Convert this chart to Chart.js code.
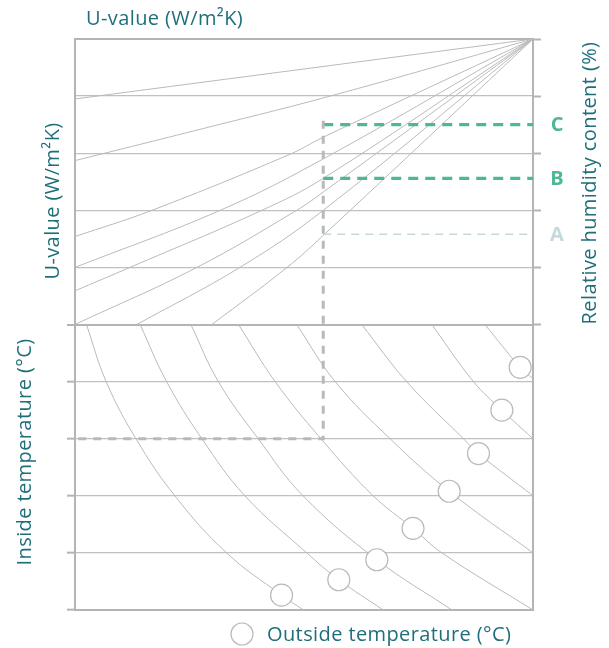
<!DOCTYPE html>
<html>
<head>
<meta charset="utf-8">
<script src="https://cdn.jsdelivr.net/npm/chart.js@4"></script>
<style>
  html, body { margin: 0; padding: 0; background: #ffffff; }
  #wrap { width: 609px; height: 648px; }
</style>
</head>
<body>
<div id="wrap"><canvas id="c" width="609" height="648"></canvas></div>
<script>
// ---------- data (normalised nomogram units: x 0-100, y 0-10 grid bands) ----------
// Upper panel: U-value lines, all converging at the top-right corner
const uLine1 = [[0, 8.95], [100, 10]];
const uLine2 = [[0, 7.87], [27.9, 8.43], [55.7, 9.0], [100, 10]];
const uLine3 = [[0, 6.54], [16.8, 7.0], [46.9, 7.98], [54.2, 8.28], [100, 10]];
const uLine4 = [[0, 6.0], [31.7, 7.0], [54.2, 7.9], [100, 10]];
const uLine5 = [[0, 5.59], [12.0, 6.0], [40.8, 7.0], [54.2, 7.56], [100, 10]];
const uLine6 = [[0, 5.0], [26.6, 6.0], [48.4, 7.0], [54.2, 7.32], [100, 10]];
const uLine7 = [[13.5, 5.0], [36.0, 6.0], [54.2, 7.0], [100, 10]];
const uLine8 = [[29.9, 5.0], [46.3, 6.0], [54.2, 6.56], [100, 10]];

// Lower panel: inside-temperature curves
const tCurve1 = [[2.5, 5], [6.8, 4], [13.3, 3], [21.8, 2], [33.1, 1], [45.1, 0.26], [49.9, 0]];
const tCurve2 = [[14.2, 5], [20.0, 4], [27.7, 3], [37.1, 2], [50.6, 1], [57.6, 0.53], [67.3, 0]];
const tCurve3 = [[25.3, 5], [31.3, 4], [40.0, 3], [49.8, 2], [65.9, 0.88], [82.3, 0]];
const tCurve4 = [[35.7, 5], [43.7, 4], [53.7, 3], [65.1, 2], [73.8, 1.43], [80.1, 1], [100, 0]];
const tCurve5 = [[48.4, 5], [56.8, 4], [68.8, 3], [81.7, 2.08], [100, 1]];
const tCurve6 = [[62.6, 5], [72.4, 4], [84.8, 3], [88.1, 2.74], [100, 2]];
const tCurve7 = [[77.9, 5], [87.0, 4], [93.2, 3.5], [100, 3]];
const tCurve8 = [[89.5, 5], [97.2, 4.25], [100, 4.05]];

// Outside temperature markers (one per curve)
const outsideTemps = [[45.1, 0.26], [57.6, 0.53], [65.9, 0.88], [73.8, 1.43], [81.7, 2.08], [88.1, 2.74], [93.2, 3.5], [97.2, 4.25]];

// Reading guides
const guideX = 54.2;
const guideTop = 8.57;
const insideTempLevel = 3;
const humidityLevels = [6.58, 7.56, 8.5];
const humidityLabels = ['A', 'B', 'C'];

// Texts
const titleTop = 'U-value (W/m²K)';
const titleLeftUpper = 'U-value (W/m²K)';
const titleLeftLower = 'Inside temperature (°C)';
const titleRight = 'Relative humidity content (%)';
const legendLabel = 'Outside temperature (°C)';

// ---------- styles ----------
const TEAL = '#1f6f7b';
const GREEN = '#4cb894';
const PALE = '#c3d9dd';
const LINE = '#bababa';
const FRAME = '#b4b4b4';
const GRID = '#c0c0c0';
const FONT = '"Open Sans", sans-serif';

const toPts = arr => arr.map(p => ({ x: p[0], y: p[1] }));

const curveDs = arr => ({
  type: 'line', data: toPts(arr), borderColor: LINE, borderWidth: 1,
  pointRadius: 0, tension: 0.4, fill: false, order: 3
});

const datasets = [];
[uLine1, uLine2, uLine3, uLine4, uLine5, uLine6, uLine7, uLine8,
 tCurve1, tCurve2, tCurve3, tCurve4, tCurve5, tCurve6, tCurve7, tCurve8].forEach(a => datasets.push(curveDs(a)));

// grey reading guide: down from the top, then left at inside temperature
datasets.push({
  type: 'line', label: 'guide',
  data: toPts([[guideX, guideTop], [guideX, insideTempLevel], [0, insideTempLevel]]),
  borderColor: '#b9b9b9', borderWidth: 3, borderDash: [8, 7], pointRadius: 0, tension: 0, order: 2
});
// humidity levels A (pale thin), B, C (green)
humidityLevels.forEach((lv, i) => {
  const pale = i === 0;
  datasets.push({
    type: 'line', label: humidityLabels[i],
    data: toPts([[guideX, lv], [100, lv]]),
    borderColor: pale ? PALE : GREEN, borderWidth: pale ? 1.5 : 3.2,
    borderDash: pale ? [8, 6] : [10, 7], pointRadius: 0, tension: 0, order: 2
  });
});
// outside temperature circles
datasets.push({
  type: 'scatter', label: legendLabel, data: toPts(outsideTemps),
  pointRadius: 11, pointBackgroundColor: '#ffffff', pointBorderColor: '#bababa',
  pointBorderWidth: 1.2, showLine: false, order: 0
});

const textPlugin = {
  id: 'nomogramText',
  afterDraw(chart) {
    const { ctx, chartArea: ca, scales } = chart;
    const y = scales.y;
    ctx.save();
    ctx.fillStyle = TEAL;
    ctx.font = '20px ' + FONT;
    ctx.letterSpacing = '0.4px';
    ctx.textBaseline = 'middle';
    // top title
    ctx.textAlign = 'left';
    ctx.fillText(titleTop, ca.left + 11, ca.top - 20);
    // rotated titles
    const rot = (txt, x, yy) => {
      ctx.save(); ctx.translate(x, yy); ctx.rotate(-Math.PI / 2);
      ctx.textAlign = 'center'; ctx.fillText(txt, 0, 0); ctx.restore();
    };
    rot(titleLeftUpper, 53, 201);
    rot(titleLeftLower, 25, 452);
    rot(titleRight, 590, 183);
    // A, B, C labels
    ctx.letterSpacing = '0px';
    ctx.font = 'bold 20px ' + FONT;
    ctx.textAlign = 'center';
    humidityLevels.forEach((lv, i) => {
      ctx.fillStyle = i === 0 ? PALE : GREEN;
      ctx.fillText(humidityLabels[i], ca.right + 24, y.getPixelForValue(lv) + 1);
    });
    // legend
    const lx = 242, ly = 634;
    ctx.beginPath(); ctx.arc(lx, ly, 11, 0, Math.PI * 2);
    ctx.fillStyle = '#fff'; ctx.fill();
    ctx.strokeStyle = '#bababa'; ctx.lineWidth = 1.2; ctx.stroke();
    ctx.fillStyle = TEAL; ctx.font = '20px ' + FONT; ctx.letterSpacing = '0.4px'; ctx.textAlign = 'left';
    ctx.fillText(legendLabel, lx + 25, ly + 1);
    ctx.restore();
  }
};

const edgeAxis = pos => ({
  type: 'linear', position: pos, min: 0, max: 100,
  ticks: { display: false },
  grid: { display: false, drawTicks: false },
  border: { display: true, color: FRAME, width: 2 }
});

new Chart(document.getElementById('c'), {
  data: { datasets },
  plugins: [textPlugin],
  options: {
    responsive: false, animation: false, events: [],
    layout: { padding: { left: 67, right: 68, top: 39, bottom: 38 } },
    plugins: { legend: { display: false }, tooltip: { enabled: false } },
    scales: {
      x: edgeAxis('bottom'),
      xTop: edgeAxis('top'),
      y: {
        type: 'linear', position: 'left', min: 0, max: 10,
        ticks: { display: false, stepSize: 1 },
        grid: {
          drawTicks: true, tickLength: 8, tickWidth: 2,
          color: c => (c.tick && c.tick.value === 5) ? FRAME : GRID,
          lineWidth: c => (c.tick && c.tick.value === 5) ? 2 : 1.3,
          tickColor: c => (c.tick && c.tick.value <= 5) ? FRAME : 'rgba(0,0,0,0)'
        },
        border: { display: true, color: FRAME, width: 2 }
      },
      yRight: {
        type: 'linear', position: 'right', min: 0, max: 10,
        ticks: { display: false, stepSize: 1 },
        grid: {
          drawOnChartArea: false, drawTicks: true, tickLength: 8, tickWidth: 2,
          tickColor: c => (c.tick && c.tick.value >= 5) ? FRAME : 'rgba(0,0,0,0)'
        },
        border: { display: true, color: FRAME, width: 2 }
      }
    }
  }
});
</script>
</body>
</html>
